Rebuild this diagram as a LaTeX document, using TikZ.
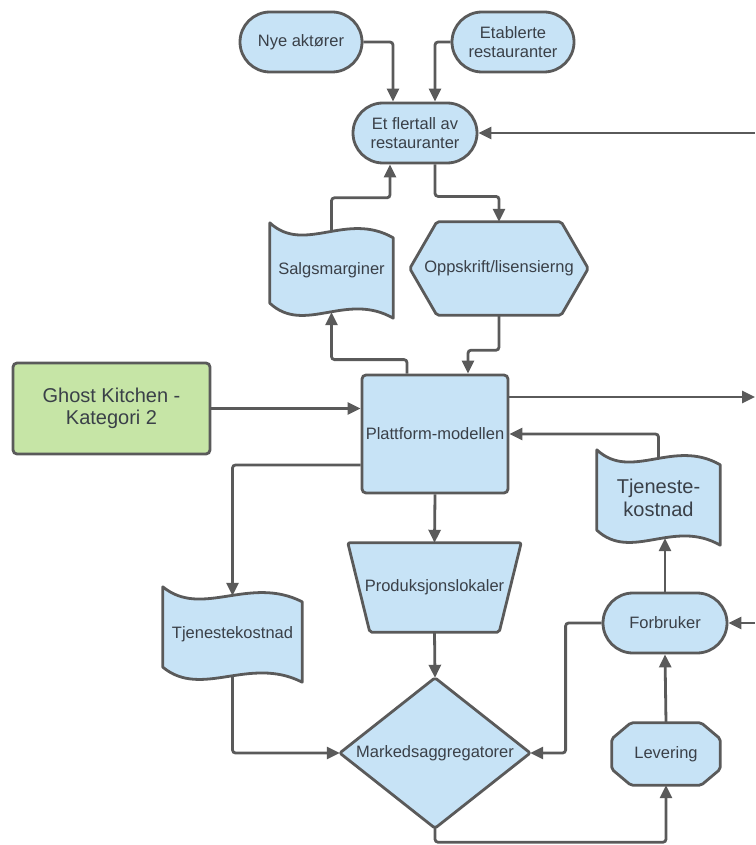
\documentclass[tikz,border=0pt]{standalone}
\usepackage{fontspec}
\setmainfont{Liberation Sans}
\usetikzlibrary{arrows.meta,shapes.misc,calc}
\definecolor{fillb}{RGB}{199,227,246}
\definecolor{fillg}{RGB}{198,229,166}
\definecolor{strk}{RGB}{90,90,90}
\definecolor{txt}{RGB}{58,64,72}
\pgfdeclarelayer{bg}
\pgfsetlayers{bg,main}
\newcommand\wavebox[1]{%
 \begin{pgfonlayer}{bg}
 \path[outline,sharp corners] let \p1=(#1.north west), \p2=(#1.south east), \n1={\x2-\x1} in
  (\x1,\y1) .. controls (\x1+0.28*\n1,\y1-32pt) and (\x1+0.62*\n1,\y1+12pt) .. (\x2,\y1-15pt)
  -- (\x2,\y2) .. controls (\x1+0.62*\n1,\y2+27pt) and (\x1+0.28*\n1,\y2-17pt) .. (\x1,\y2+15pt) -- cycle;
 \end{pgfonlayer}}
\begin{document}
\begin{tikzpicture}[x=1pt,y=-1pt,
  every node/.style={font=\fontsize{16.5}{18.5}\selectfont, text=txt, align=center},
  pill/.style={rounded rectangle, draw=strk, fill=fillb, line width=2.8pt, minimum width=122pt, minimum height=60pt, inner sep=0pt},
  boxb/.style={rectangle, rounded corners=4pt, draw=strk, fill=fillb, line width=2.8pt, inner sep=0pt},
  boxg/.style={rectangle, rounded corners=4pt, draw=strk, fill=fillg, line width=2.8pt, inner sep=0pt},
  frame/.style={rectangle, inner sep=0pt},
  outline/.style={draw=strk, fill=fillb, line width=2.8pt, line join=round, rounded corners=2pt},
  conn/.style={draw=strk, line width=2.8pt, rounded corners=3pt, -{Triangle[length=13pt,width=12pt]}},
  big/.style={font=\fontsize{20}{22.5}\selectfont}
]
\useasboundingbox (0,0) rectangle (755,845);

% nodes
\node[pill] (nye) at (301,42) {Nye aktører};
\node[pill] (etb) at (513,42) {Etablerte\\restauranter};
\node[pill, minimum width=124pt] (ef) at (415,133) {Et flertall av\\restauranter};
\node[frame, minimum width=123pt, minimum height=95pt] (sal) at (331.5,270.5) {Salgsmarginer};
\node[frame, minimum width=178pt, minimum height=93pt] (opp) at (499,268.5) {Oppskrift/lisensierng};
\node[boxb, minimum width=146pt, minimum height=118pt] (plat) at (435,434) {Plattform-modellen};
\node[boxg, big, minimum width=197pt, minimum height=91pt] (ghost) at (111.5,408.5) {Ghost Kitchen -\\Kategori 2};
\node[frame, minimum width=123pt, minimum height=95pt, font=\fontsize{20}{23}\selectfont] (tjr) at (658.5,497.5) {Tjeneste-\\kostnad};
\node[frame, minimum width=139pt, minimum height=95pt] (tjl) at (232.5,634.5) {Tjenestekostnad};
\node[frame, minimum width=173pt, minimum height=89pt] (prod) at (434.5,587.5) {Produksjonslokaler};
\node[frame, minimum width=190pt, minimum height=150pt] (mk) at (435,753) {Markedsaggregatorer};
\node[pill, minimum width=124pt] (forb) at (665,623) {Forbruker};
\node[frame, minimum width=108pt, minimum height=62pt] (lev) at (666,754) {Levering};

\coordinate (rin1) at (755,133);
\coordinate (rout) at (755,397);
\coordinate (rin2) at (755,623);

% outlines
\wavebox{sal}
\wavebox{tjr}
\wavebox{tjl}
\begin{pgfonlayer}{bg}
\path[outline] (opp.west) -- ([xshift=27pt]opp.north west) -- ([xshift=-27pt]opp.north east) -- (opp.east) -- ([xshift=-27pt]opp.south east) -- ([xshift=27pt]opp.south west) -- cycle;
\path[outline] (prod.north west) -- (prod.north east) -- ([xshift=-22pt]prod.south east) -- ([xshift=22pt]prod.south west) -- cycle;
\path[outline] (mk.north) -- (mk.east) -- (mk.south) -- (mk.west) -- cycle;
\path[outline] ([xshift=19pt]lev.north west) -- ([xshift=-19pt]lev.north east) -- ([yshift=-16pt]lev.north east) -- ([yshift=16pt]lev.south east) -- ([xshift=-19pt]lev.south east) -- ([xshift=19pt]lev.south west) -- ([yshift=16pt]lev.south west) -- ([yshift=-16pt]lev.north west) -- cycle;
\end{pgfonlayer}

% connectors
\draw[conn] (nye.east) -| ([xshift=-22pt]ef.north);
\draw[conn] (etb.west) -| ([xshift=20pt]ef.north);
\draw[conn] (rin1) -- (ef.east);
\draw[conn] ([yshift=-9pt]sal.north) -- ++(0,-34) -| ([xshift=-25pt]ef.south);
\draw[conn] ([xshift=20pt]ef.south) -- ++(0,32) -| (opp.north);
\draw[conn] (opp.south) -- ++(0,35) -| ([xshift=33pt]plat.north);
\draw[conn] ([xshift=-28pt]plat.north) -- ++(0,-14) -| ([yshift=6pt]sal.south);
\draw[conn] (ghost.east) -- (ghost.east -| plat.west);
\draw[conn] (rout -| plat.east) -- (rout);
\draw[conn] ([yshift=-9pt]tjr.north) |- (plat.east);
\draw[conn] ([yshift=-31pt]plat.west) -| ([yshift=-9pt]tjl.north);
\draw[conn] (plat.south) -- (prod.north);
\draw[conn] (prod.south) -- (mk.north);
\draw[conn] ([yshift=6pt]tjl.south) |- (mk.west);
\draw[conn] (forb.west) -- ++(-36,0) |- (mk.east);
\draw[conn] (forb.north) -- ($(forb.north |- tjr.south)+(0,-7)$);
\draw[conn] (rin2) -- (forb.east);
\draw[conn] (lev.north) -- (forb.south);
\draw[conn] (mk.south) -- ++(0,14) -| (lev.south);
\end{tikzpicture}
\end{document}
